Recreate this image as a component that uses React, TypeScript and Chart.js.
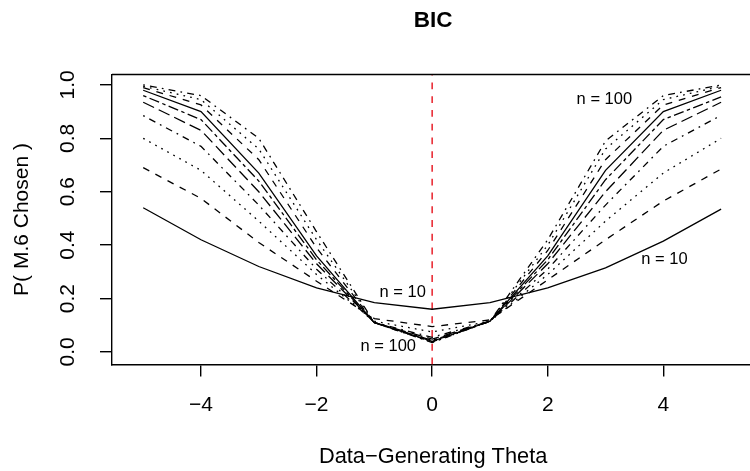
import React, { useEffect, useRef } from 'react';
import { Chart, registerables } from 'chart.js';

Chart.register(...registerables);

// ---- data ----
const thetas = [-5, -4, -3, -2, -1, 0, 1, 2, 3, 4, 5];
const sampleSizes = [10, 20, 30, 40, 50, 60, 70, 80, 90, 100];

const p_n10 = [0.54, 0.42, 0.32, 0.24, 0.185, 0.16, 0.185, 0.24, 0.315, 0.415, 0.535];
const p_n20 = [0.69, 0.575, 0.41, 0.265, 0.125, 0.095, 0.12, 0.27, 0.42, 0.565, 0.685];
const p_n30 = [0.8, 0.68, 0.49, 0.29, 0.115, 0.075, 0.115, 0.29, 0.49, 0.67, 0.8];
const p_n40 = [0.885, 0.77, 0.55, 0.31, 0.11, 0.055, 0.115, 0.31, 0.55, 0.77, 0.886];
const p_n50 = [0.935, 0.83, 0.6, 0.33, 0.11, 0.048, 0.115, 0.33, 0.6, 0.83, 0.935];
const p_n60 = [0.96, 0.87, 0.64, 0.345, 0.11, 0.043, 0.115, 0.345, 0.645, 0.87, 0.955];
const p_n70 = [0.98, 0.9, 0.67, 0.36, 0.11, 0.04, 0.115, 0.36, 0.68, 0.9, 0.98];
const p_n80 = [0.99, 0.925, 0.72, 0.39, 0.11, 0.038, 0.115, 0.38, 0.72, 0.925, 0.99];
const p_n90 = [0.995, 0.945, 0.76, 0.42, 0.11, 0.036, 0.115, 0.4, 0.76, 0.945, 0.995];
const p_n100 = [1.0, 0.96, 0.8, 0.45, 0.11, 0.035, 0.115, 0.42, 0.79, 0.96, 1.0];

const seriesValues = [p_n10, p_n20, p_n30, p_n40, p_n50, p_n60, p_n70, p_n80, p_n90, p_n100];

const xTickValues = [-4, -2, 0, 2, 4];
const yTickValues = [0, 0.2, 0.4, 0.6, 0.8, 1.0];
const referenceTheta = 0;

const titleText = 'BIC';
const xTitleText = 'Data\u2212Generating Theta';
const yTitleText = 'P( M.6 Chosen )';

// curve labels placed in data coordinates
const curveLabels = [
  { text: 'n = 10', x: -0.51, y: 0.221 },
  { text: 'n = 100', x: -0.76, y: 0.019 },
  { text: 'n = 100', x: 2.98, y: 0.944 },
  { text: 'n = 10', x: 4.02, y: 0.348 },
];

// ---- style ----
const FONT = '"Liberation Sans", Arial, Helvetica, sans-serif';
const S = 1.72; // R line-unit scale
const ltyPatterns: number[][] = [
  [], // solid
  [4 * S, 4 * S], // dashed
  [1 * S, 3 * S], // dotted
  [1 * S, 3 * S, 4 * S, 3 * S], // dotdash
  [7 * S, 3 * S], // longdash
  [2 * S, 2 * S, 6 * S, 2 * S], // twodash
];

const X_MIN = -5.54;
const X_MAX = 5.5;
const Y_MIN = -0.047;
const Y_MAX = 1.039;

const fmtTick = (v: number) => (v < 0 ? '\u2212' + Math.abs(v) : String(v));

const rDecorations = {
  id: 'rDecorations',
  afterDraw(chart: any) {
    const { ctx, chartArea, scales } = chart;
    const x = scales.x;
    const y = scales.y;
    ctx.save();
    // top border of box
    ctx.strokeStyle = '#000';
    ctx.lineWidth = 1.4;
    ctx.beginPath();
    ctx.moveTo(chartArea.left, chartArea.top);
    ctx.lineTo(chartArea.right, chartArea.top);
    ctx.stroke();

    ctx.fillStyle = '#000';
    ctx.textAlign = 'center';
    ctx.textBaseline = 'middle';

    // y tick labels (rotated, parallel to axis)
    ctx.font = `21px ${FONT}`;
    for (const v of yTickValues) {
      const py = y.getPixelForValue(v);
      ctx.save();
      ctx.translate(68, py);
      ctx.rotate(-Math.PI / 2);
      ctx.fillText(v.toFixed(1), 0, 0);
      ctx.restore();
    }

    // y axis title
    ctx.save();
    ctx.translate(22, (chartArea.top + chartArea.bottom) / 2);
    ctx.rotate(-Math.PI / 2);
    ctx.fillText(yTitleText, 0, 0);
    ctx.restore();

    const cx = x.getPixelForValue(0) + 1;
    // x axis title
    ctx.font = `21.8px ${FONT}`;
    ctx.fillText(xTitleText, cx, 457);

    // main title
    ctx.font = `bold 22.5px ${FONT}`;
    ctx.fillText(titleText, cx, 21);

    // curve labels
    ctx.font = `16.5px ${FONT}`;
    for (const l of curveLabels) {
      ctx.fillText(l.text, x.getPixelForValue(l.x), y.getPixelForValue(l.y));
    }
    ctx.restore();
  },
};

export default function App() {
  const canvasRef = useRef<HTMLCanvasElement | null>(null);

  useEffect(() => {
    const canvas = canvasRef.current;
    if (!canvas) return;

    const datasets: any[] = seriesValues.map((vals, i) => ({
      label: 'n = ' + sampleSizes[i],
      data: thetas.map((t, j) => ({ x: t, y: vals[j] })),
      borderColor: '#000',
      borderWidth: 1.3,
      borderDash: ltyPatterns[i % 6],
      pointRadius: 0,
      fill: false,
      tension: 0,
    }));

    datasets.push({
      label: 'reference',
      data: [
        { x: referenceTheta, y: Y_MIN },
        { x: referenceTheta, y: Y_MAX },
      ],
      borderColor: '#E8202A',
      borderWidth: 1.5,
      borderDash: [4 * S, 4 * S],
      pointRadius: 0,
      fill: false,
    });

    const chart = new Chart(canvas, {
      type: 'line',
      data: { datasets },
      options: {
        animation: false,
        responsive: false,
        maintainAspectRatio: false,
        layout: { padding: { top: 74.5, left: 0, right: 0, bottom: 0 } },
        plugins: {
          legend: { display: false },
          tooltip: { enabled: false },
          title: { display: false },
        },
        scales: {
          x: {
            type: 'linear',
            min: X_MIN,
            max: X_MAX,
            afterBuildTicks: (s: any) => {
              s.ticks = xTickValues.map((v) => ({ value: v }));
            },
            afterFit: (s: any) => {
              s.height = 106.5;
            },
            grid: {
              drawOnChartArea: false,
              drawTicks: true,
              tickLength: 12,
              color: '#000',
              lineWidth: 1.4,
            },
            border: { display: true, color: '#000', width: 1.4 },
            ticks: {
              font: { size: 21, family: FONT },
              color: '#000',
              padding: 16,
              maxRotation: 0,
              minRotation: 0,
              callback: (v: any) => fmtTick(Number(v)),
            },
          },
          y: {
            type: 'linear',
            min: Y_MIN,
            max: Y_MAX,
            afterBuildTicks: (s: any) => {
              s.ticks = yTickValues.map((v) => ({ value: v }));
            },
            afterFit: (s: any) => {
              s.width = 112;
            },
            grid: {
              drawOnChartArea: false,
              drawTicks: true,
              tickLength: 12,
              color: '#000',
              lineWidth: 1.4,
            },
            border: { display: true, color: '#000', width: 1.4 },
            ticks: { display: false },
          },
        },
      },
      plugins: [rDecorations],
    });

    return () => chart.destroy();
  }, []);

  return (
    <div style={{ position: 'fixed', left: 0, top: 0, width: 750, height: 471, background: '#fff' }}>
      <canvas ref={canvasRef} width={750} height={471} style={{ width: 750, height: 471, display: 'block' }} />
    </div>
  );
}
